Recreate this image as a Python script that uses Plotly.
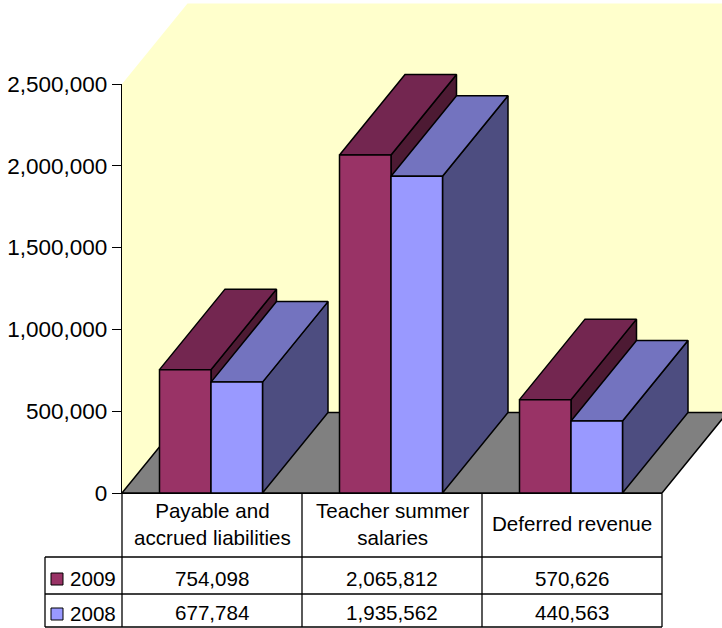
import plotly.graph_objects as go

CATEGORIES = ["Payable and<br>accrued liabilities", "Teacher summer<br>salaries", "Deferred revenue"]
SERIES_NAMES = ["2009", "2008"]
VALUES_2009 = [754098, 2065812, 570626]
VALUES_2008 = [677784, 1935562, 440563]
LABELS_2009 = ["754,098", "2,065,812", "570,626"]
LABELS_2008 = ["677,784", "1,935,562", "440,563"]
Y_TICKS = [0, 500000, 1000000, 1500000, 2000000, 2500000]
Y_LABELS = ["0", "500,000", "1,000,000", "1,500,000", "2,000,000", "2,500,000"]

W, H = 722, 628
L, T_AXIS, BOTTOM = 122, 84, 493
CAT_PX = 180.0
PW = W - L                    # full drawing area width
PH = BOTTOM                   # full drawing area height
AXIS_PX = BOTTOM - T_AXIS
Y_MAX = 2500000
Y_PER_PX = Y_MAX / AXIS_PX
BAR_W = 51.5 / CAT_PX
SHIFT = -1 / CAT_PX
DX = 65.5 / CAT_PX            # depth offset in category units
DY = 80.5 * Y_PER_PX          # depth offset in value units

FRONT = {"2009": "#993366", "2008": "#9999FF"}
TOP = {"2009": "#732650", "2008": "#7373BF"}
SIDE = {"2009": "#4D1A33", "2008": "#4D4D80"}
WALL, FLOOR, INK = "#FFFFCC", "#808080", "#000000"
FS_AXIS, FS_TABLE = 22.5, 20.6
FONT = "Liberation Sans, Arial, sans-serif"
LW = 1.5


def poly(xs, ys, fill, line=True):
    return go.Scatter(
        x=xs + xs[:1], y=ys + ys[:1], mode="lines", fill="toself", fillcolor=fill,
        line=dict(color=INK if line else fill, width=LW if line else 0),
        hoverinfo="skip", showlegend=False, xaxis="x", yaxis="y",
    )


fig = go.Figure()
# back wall and floor
fig.add_trace(poly([0, DX, 3 + DX, 3 + DX, DX, 0],
                   [Y_MAX, Y_MAX + DY, Y_MAX + DY, DY, DY, 0], WALL, False))
fig.add_trace(poly([0, DX, 3 + DX, 3], [0, DY, DY, 0], FLOOR, True))

# top and side faces of each box
for i in range(len(CATEGORIES)):
    centre = i + 0.5 + SHIFT
    for name, vals, x0 in ((SERIES_NAMES[0], VALUES_2009, centre - BAR_W),
                           (SERIES_NAMES[1], VALUES_2008, centre)):
        v = vals[i]
        x1 = x0 + BAR_W
        fig.add_trace(poly([x1, x1 + DX, x1 + DX, x1], [0, DY, v + DY, v], SIDE[name]))
        fig.add_trace(poly([x0, x1, x1 + DX, x0 + DX], [v, v, v + DY, v + DY], TOP[name]))

# front faces as real bars on the visible axis pair
centres = [i + 0.5 + SHIFT for i in range(len(CATEGORIES))]
for name, vals, offset in ((SERIES_NAMES[0], VALUES_2009, -BAR_W), (SERIES_NAMES[1], VALUES_2008, 0)):
    fig.add_trace(go.Bar(
        x=centres, y=vals, width=BAR_W, offset=offset, name=name,
        marker=dict(color=FRONT[name], line=dict(color=INK, width=LW)),
        xaxis="x2", yaxis="y2", showlegend=False,
    ))


def px(x):
    return (x - L) / PW


def py(y):
    return (BOTTOM - y) / PH


ROW_Y = [493, 557, 594, 627]
TABLE_LEFT = 45
shapes = []


def seg(x0, y0, x1, y1):
    shapes.append(dict(type="line", xref="paper", yref="paper", x0=px(x0), x1=px(x1), y0=py(y0), y1=py(y1),
                       line=dict(color=INK, width=1.3)))


for k in range(4):
    seg(L + k * CAT_PX, ROW_Y[0], L + k * CAT_PX, ROW_Y[3])
for r in ROW_Y[1:]:
    seg(TABLE_LEFT, r, L + 3 * CAT_PX, r)
seg(TABLE_LEFT, ROW_Y[1], TABLE_LEFT, ROW_Y[3])

annotations = []


def label(text, x, y, anchor="center"):
    annotations.append(dict(text=text, xref="paper", yref="paper", x=px(x), y=py(y), xanchor=anchor,
                            yanchor="middle", showarrow=False, font=dict(size=FS_TABLE, color="#000000", family=FONT)))


for i, cat in enumerate(CATEGORIES):
    cx = L + (i + 0.5) * CAT_PX
    label(cat, cx, 523.5)
    label(LABELS_2009[i], cx, 578)
    label(LABELS_2008[i], cx, 612.5)

for name, ymid in zip(SERIES_NAMES, (579, 614)):
    shapes.append(dict(type="rect", xref="paper", yref="paper", x0=px(51), x1=px(63),
                       y0=py(ymid - 6), y1=py(ymid + 6), fillcolor=FRONT[name], line=dict(color=INK, width=1)))
    label(name, 68, ymid - 1, "left")

fig.update_layout(
    width=W, height=H, margin=dict(l=L, r=0, t=0, b=H - BOTTOM, pad=0, autoexpand=False),
    paper_bgcolor="#FFFFFF", plot_bgcolor="rgba(0,0,0,0)",
    font=dict(family=FONT, color="#000000"),
    barmode="overlay", showlegend=False, shapes=shapes, annotations=annotations,
    xaxis=dict(range=[0, PW / CAT_PX], visible=False, fixedrange=True),
    yaxis=dict(range=[0, PH * Y_PER_PX], visible=False, fixedrange=True),
    xaxis2=dict(domain=[0, 3 * CAT_PX / PW], range=[0, 3], anchor="y2", showgrid=False, zeroline=False,
                showline=True, linecolor=INK, linewidth=1.3, ticks="", showticklabels=False, fixedrange=True),
    yaxis2=dict(domain=[0, AXIS_PX / PH], range=[0, Y_MAX], anchor="x2", tickvals=Y_TICKS, ticktext=Y_LABELS,
                ticks="outside", ticklen=9, tickwidth=1.3, tickcolor=INK, showgrid=False, zeroline=False,
                showline=True, linecolor=INK, linewidth=1.3,
                tickfont=dict(size=FS_AXIS, family=FONT, color="#000000"), fixedrange=True),
)

fig.write_html("out.html", config={"displayModeBar": False},
               post_script="document.body.style.margin='0';document.body.style.overflow='hidden';")
